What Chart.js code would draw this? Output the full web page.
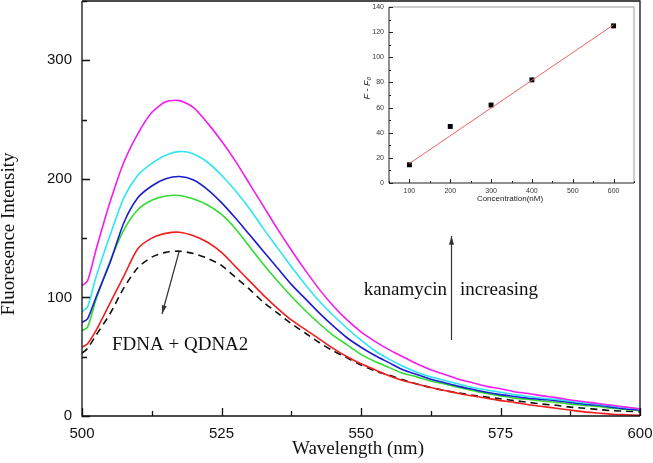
<!DOCTYPE html>
<html>
<head>
<meta charset="utf-8">
<script src="https://cdn.jsdelivr.net/npm/chart.js@4.4.0/dist/chart.umd.min.js"></script>
<style>
body{margin:0;background:#fff;}
#wrap{position:relative;width:653px;height:463px;}
#main{position:absolute;left:0;top:0;}
#inset{position:absolute;left:360px;top:3px;background:#fff;}
</style>
</head>
<body>
<div id="wrap">
<canvas id="main" width="653" height="463"></canvas>
<canvas id="inset" width="278" height="202"></canvas>
</div>
<script>
// espectros de fluorescencia
var wavelengths = [500,501,502.5,505,507.5,510,512.5,515,517.5,520,522.5,525,527.5,530,532.5,535,537.5,540,542.5,545,547.5,550,552.5,555,557.5,560,562.5,565,567.5,570,572.5,575,577.5,580,582.5,585,587.5,590,592.5,595,597.5,600];
var fdnaQdna2 = [53,57,68,86,108,125,134,138,139,137,133,127,117,107,96,87,78,70,62,55,49,43,38,34.5,30.5,27,24,21.5,19.5,17.5,16,14.5,13,11.5,10,9,7.5,6.5,5.5,4.5,4,3.5];
var rojo = [58,61,72,95,118,141,150,154,155,152,146.5,138,126,114,102,91,81,73,65,57,50,44,39,34,30,27,24,21.5,19,17,15,13,11.5,9.5,8,6.5,5,3.5,2.5,1.5,1,0.5];
var verde = [72,75,98,130,157,174,182,185.5,186,183,178,170,158,143,128,114,101,89,78,68,60,52,46,41,36,33,29.5,27,24,21.5,19,17,15,14,12.5,11.5,10,9,8,6.5,5.5,4.5];
var azul = [79,82,100,129,163,184,194,200,202,199,191,180,167,153,139,125,111,99,87,76,66,58,51,45,39,35,31,28,25,22.5,20,18,16.5,15,14,13,11.5,10,9,7.5,6,5];
var cian = [88,92,117,152,184,203,213,220,223,221,214,203,190,175,158,142,126,111,97,85,74,64,55,48,42,37,33,30,27,24,22,20,18,16.5,15,14,12.5,11,10,8.5,7,6];
var magenta = [110,114,140,180,214,238,256,265,266,260,247,232,215,196,177,158,140,123,107,93,81,71,63,56,50,44,39,35,31,28,25,23,20.5,19,17,15.5,13.5,12,10.5,9,7.5,6];

// inserto: F - F0 vs concentracion
var concentraciones = [100,200,300,400,600];
var deltaF = [14.5,45,62,82,125];
var ajusteX = [100,600];
var ajusteY = [15.5,125.8];

function puntos(xs, ys) {
  return xs.map(function (x, i) { return {x: x, y: ys[i]}; });
}

function flecha(ctx, x1, y1, x2, y2) {
  var ang = Math.atan2(y2 - y1, x2 - x1);
  ctx.beginPath(); ctx.moveTo(x1, y1); ctx.lineTo(x2, y2); ctx.stroke();
  ctx.beginPath();
  ctx.moveTo(x2, y2);
  ctx.lineTo(x2 - 9 * Math.cos(ang - 0.28), y2 - 9 * Math.sin(ang - 0.28));
  ctx.lineTo(x2 - 9 * Math.cos(ang + 0.28), y2 - 9 * Math.sin(ang + 0.28));
  ctx.closePath(); ctx.fill();
}

// sin relleno automatico de chart.js alrededor de las etiquetas
function fijarAlto(h) {
  return function (s) { s.height = h; s.paddingLeft = 0; s.paddingRight = 0; };
}
function fijarAncho(w) {
  return function (s) { s.width = w; s.paddingTop = 0; s.paddingBottom = 0; };
}

// marco y marcas hacia adentro
function marco(conf) {
  return {
    id: 'marco',
    afterDraw: function (chart) {
      var ctx = chart.ctx, a = chart.chartArea;
      var sx = chart.scales.x, sy = chart.scales.y;
      ctx.save();
      ctx.lineWidth = conf.ancho;
      ctx.strokeStyle = conf.colorSup;
      ctx.beginPath();
      ctx.moveTo(a.left, a.top); ctx.lineTo(a.right, a.top); ctx.lineTo(a.right, a.bottom);
      ctx.stroke();
      ctx.strokeStyle = conf.color;
      ctx.beginPath();
      ctx.moveTo(a.left, a.top); ctx.lineTo(a.left, a.bottom); ctx.lineTo(a.right, a.bottom);
      ctx.stroke();
      ctx.beginPath();
      sx.ticks.forEach(function (t) {
        var px = Math.round(sx.getPixelForValue(t.value)) + 0.5;
        var l = (t.value % conf.pasoX === 0) ? conf.mayor : conf.menor;
        ctx.moveTo(px, a.bottom); ctx.lineTo(px, a.bottom - l);
      });
      sy.ticks.forEach(function (t) {
        var py = Math.round(sy.getPixelForValue(t.value)) + 0.5;
        var l = (t.value % conf.pasoY === 0) ? conf.mayor : conf.menor;
        ctx.moveTo(a.left, py); ctx.lineTo(a.left + l, py);
      });
      ctx.stroke();
      ctx.restore();
      if (conf.extra) conf.extra(ctx, chart);
    }
  };
}

function textosPrincipal(ctx) {
  ctx.save();
  ctx.fillStyle = '#111';
  ctx.font = '19px "Liberation Serif", "Times New Roman", serif';
  ctx.textBaseline = 'middle';
  ctx.textAlign = 'center';
  ctx.fillText('Wavelength (nm)', 358, 449);
  ctx.save();
  ctx.translate(9, 234);
  ctx.rotate(-Math.PI / 2);
  ctx.fillText('Fluoresence Intensity', 0, 0);
  ctx.restore();
  ctx.textBaseline = 'alphabetic';
  ctx.textAlign = 'left';
  ctx.fillText('FDNA + QDNA2', 112, 350);
  ctx.fillText('increasing', 460, 295);
  ctx.textAlign = 'right';
  ctx.fillText('kanamycin', 447, 295);
  ctx.strokeStyle = '#333';
  ctx.fillStyle = '#333';
  ctx.lineWidth = 1.2;
  flecha(ctx, 179, 252, 162, 314);
  flecha(ctx, 451.5, 340, 451.5, 236);
  ctx.restore();
}

function textosInserto(ctx) {
  ctx.save();
  ctx.fillStyle = '#222';
  ctx.textAlign = 'center';
  ctx.textBaseline = 'middle';
  ctx.font = '8px "Liberation Sans", Arial, sans-serif';
  ctx.fillText('Concentration(nM)', 150, 196);
  ctx.translate(7, 85);
  ctx.rotate(-Math.PI / 2);
  ctx.font = 'italic 9px "Liberation Sans", Arial, sans-serif';
  ctx.fillText('F - F\u2080', 0, 0);
  ctx.restore();
}

var fuenteTicks = {family: '"Liberation Sans", Arial, sans-serif', size: 15};

function serie(datos, color, dash) {
  return {
    data: puntos(wavelengths, datos),
    borderColor: color,
    borderWidth: 1.6,
    borderDash: dash || [],
    pointRadius: 0,
    tension: 0.25,
    fill: false
  };
}

new Chart(document.getElementById('main').getContext('2d'), {
  type: 'line',
  data: {
    datasets: [
      serie(magenta, '#f21cf0'),
      serie(cian, '#2ee6f2'),
      serie(azul, '#1c1cd2'),
      serie(verde, '#30dc30'),
      serie(rojo, '#ee1e1e'),
      serie(fdnaQdna2, '#111111', [7, 5])
    ]
  },
  options: {
    responsive: false,
    animation: false,
    devicePixelRatio: 1,
    layout: {padding: {top: 1, right: 13, bottom: 0, left: 0}},
    plugins: {legend: {display: false}, tooltip: {enabled: false}},
    scales: {
      x: {
        type: 'linear', min: 500, max: 600,
        grid: {display: false, drawTicks: false}, border: {display: false},
        afterFit: fijarAlto(47),
        ticks: {
          stepSize: 12.5, autoSkip: false, maxRotation: 0, padding: 9,
          color: '#111', font: fuenteTicks,
          callback: function (v) { return v % 25 === 0 ? v : ''; }
        }
      },
      y: {
        min: 0, max: 350,
        grid: {display: false, drawTicks: false}, border: {display: false},
        afterFit: fijarAncho(82),
        ticks: {
          stepSize: 50, autoSkip: false, padding: 10,
          color: '#111', font: fuenteTicks,
          callback: function (v) { return v % 100 === 0 ? v : ''; }
        }
      }
    }
  },
  plugins: [marco({ancho: 1.3, color: '#111', colorSup: '#111', mayor: 8, menor: 5, pasoX: 25, pasoY: 100, extra: textosPrincipal})]
});

var fuenteInserto = {family: '"Liberation Sans", Arial, sans-serif', size: 7};

new Chart(document.getElementById('inset').getContext('2d'), {
  type: 'line',
  data: {
    datasets: [
      {data: puntos(ajusteX, ajusteY), borderColor: '#f06060', borderWidth: 1, pointRadius: 0},
      {data: puntos(concentraciones, deltaF), showLine: false, pointStyle: 'rect', pointRadius: 3.5,
       pointBackgroundColor: '#000', pointBorderColor: '#000', borderWidth: 0}
    ]
  },
  options: {
    responsive: false,
    animation: false,
    devicePixelRatio: 1,
    layout: {padding: {top: 2, right: 2, bottom: 0, left: 0}},
    plugins: {legend: {display: false}, tooltip: {enabled: false}},
    scales: {
      x: {
        type: 'linear', min: 50, max: 650,
        grid: {display: false, drawTicks: false}, border: {display: false},
        afterFit: fijarAlto(22),
        ticks: {
          stepSize: 50, autoSkip: false, maxRotation: 0, padding: 4,
          color: '#333', font: fuenteInserto,
          callback: function (v) { return v % 100 === 0 ? v : ''; }
        }
      },
      y: {
        min: 0, max: 140,
        grid: {display: false, drawTicks: false}, border: {display: false},
        afterFit: fijarAncho(29),
        ticks: {
          stepSize: 10, autoSkip: false, padding: 5,
          color: '#333', font: fuenteInserto,
          callback: function (v) { return v % 20 === 0 ? v : ''; }
        }
      }
    }
  },
  plugins: [marco({ancho: 1, color: '#222', colorSup: '#999', mayor: 4, menor: 2, pasoX: 100, pasoY: 20, extra: textosInserto})]
});
</script>
</body>
</html>
